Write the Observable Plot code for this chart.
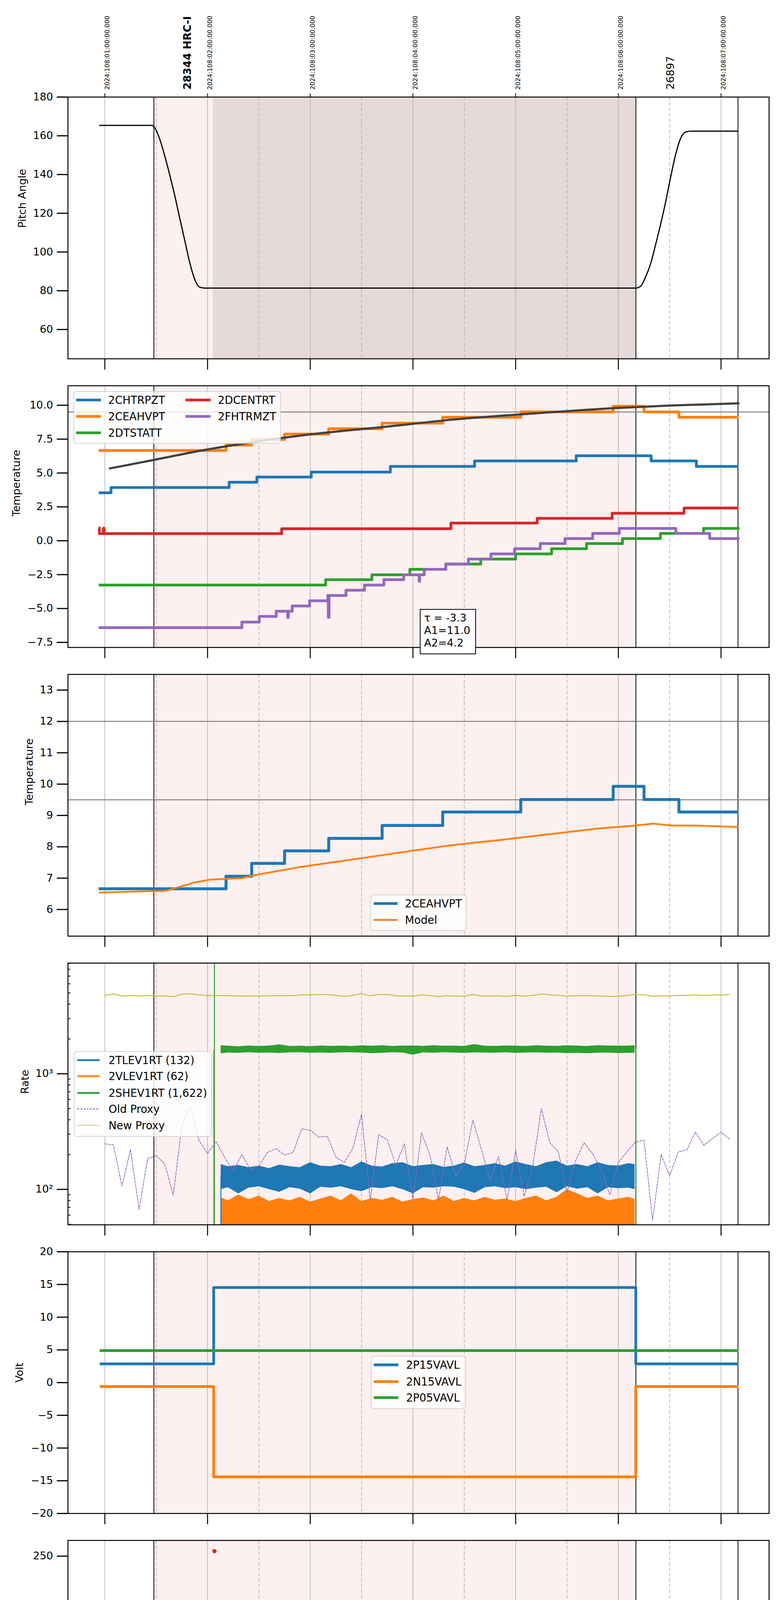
<!DOCTYPE html>
<html>
<head>
<meta charset="utf-8">
<script src="https://cdn.jsdelivr.net/npm/d3@7"></script>
<script src="https://cdn.jsdelivr.net/npm/@observablehq/plot@0.6"></script>
<style>
html,body{margin:0;padding:0;background:#fff;}
#root{position:relative;width:2000px;height:6200px;overflow:hidden;font-family:"DejaVu Sans",sans-serif;}
#root svg.panel{position:absolute;left:0;overflow:visible;}
.legend{position:absolute;box-sizing:border-box;background:rgba(255,255,255,0.8);border:2.2px solid rgba(204,204,204,0.85);border-radius:7px;}
.ltext{position:absolute;font-size:27.5px;line-height:30px;white-space:nowrap;color:#000;transform:translateY(-50%);}
.handle{position:absolute;overflow:visible;}
.tbox{position:absolute;box-sizing:border-box;border:2.2px solid #000;background:#fff;font-size:27px;line-height:32px;padding:5px 0 0 9px;white-space:nowrap;}
</style>
</head>
<body>
<div id="root"></div>
<script>
// ---------------- common axis data ----------------
const xDomain = [0.6407, 7.468];          // hours UTC, day 2024:108
const hourTicks = [1, 2, 3, 4, 5, 6, 7];
const halfTicks = [1.5, 2.5, 3.5, 4.5, 5.5, 6.5];
const eventLines = [1.4775, 6.171, 7.165];
const obsSpan = [1.4775, 6.171];
const dwellSpan = [2.054, 6.171];
const obsLabelT = [1.765, 6.468];
const obsLabels = ["28344 HRC-I", "26897"];

// ---------------- panel 1: pitch ----------------
const pitchT = [0.95,1.46,1.485,1.533,1.582,1.63,1.679,1.727,1.776,1.825,1.873,1.921,1.97,6.168,6.217,6.266,6.314,6.362,6.411,6.46,6.508,6.556,6.605,6.653,6.702,7.165];
const pitchV = [165.4,165.4,164.3,158.5,149.9,140.2,129.6,118.0,106.5,94.9,86.2,81.9,81.4,81.4,82.3,87.2,93.9,103.6,114.2,125.7,138.3,149.9,158.5,161.9,162.4,162.4];

// ---------------- panel 2: temperatures ----------------
const chtrpztT = [0.94,1.06,2.21,2.48,3.01,3.78,4.60,5.59,6.32,6.76,7.17];
const chtrpztV = [3.54,3.93,4.32,4.70,5.07,5.49,5.89,6.27,5.89,5.49,5.49];
const ceahvptT = [0.94,2.18,2.43,2.75,3.18,3.70,4.29,5.05,5.95,6.25,6.59,7.17];
const ceahvptV = [6.66,7.06,7.47,7.87,8.27,8.68,9.11,9.51,9.93,9.51,9.11,9.11];
const dtstattT = [0.94,3.15,3.60,3.97,4.32,4.66,5.00,5.35,5.69,6.04,6.41,6.83,7.18];
const dtstattV = [-3.27,-2.87,-2.51,-2.11,-1.72,-1.35,-0.97,-0.59,-0.21,0.16,0.54,0.91,0.91];
const dcentrtT = [0.94,0.947,0.985,0.993,2.722,4.37,5.21,5.94,6.64,7.17];
const dcentrtV = [0.95,0.53,0.92,0.53,0.89,1.31,1.65,2.03,2.42,2.42];
const fhtrmztT = [0.94,2.334,2.504,2.669,2.78,2.787,2.824,2.994,3.171,3.176,3.183,3.348,3.528,3.717,3.91,4.06,4.065,4.11,4.32,4.54,4.76,4.99,5.24,5.48,5.75,6.01,6.56,6.89,7.18];
const fhtrmztV = [-6.41,-6.0,-5.58,-5.2,-5.65,-5.2,-4.81,-4.43,-4.04,-5.65,-4.04,-3.65,-3.27,-2.87,-2.51,-2.99,-2.51,-2.11,-1.72,-1.35,-0.97,-0.59,-0.21,0.16,0.54,0.91,0.54,0.16,0.16];
const fitT = [1.05,1.5,1.97,2.48,3.0,3.78,4.4,5.0,5.95,6.5,7.17];
const fitV = [5.34,6.0,6.7,7.32,7.85,8.45,8.95,9.3,9.78,9.98,10.14];
const p2Limit = [9.5];
const fitText = ["τ = -3.3", "A1=11.0", "A2=4.2"];

// ---------------- panel 3: 2CEAHVPT vs model ----------------
const modelT = [0.95,1.60,1.87,2.02,2.33,2.50,2.89,3.38,3.86,4.35,4.83,5.32,5.80,6.14,6.34,6.51,6.73,7.16];
const modelV = [6.54,6.60,6.86,6.95,7.00,7.12,7.35,7.58,7.81,8.04,8.21,8.40,8.58,8.67,8.74,8.68,8.68,8.63];
const p3Limits = [12, 9.5];

// ---------------- panel 4: rates ----------------
const bandT = [2.13,2.2,2.3,2.4,2.5,2.6,2.7,2.8,2.9,3.0,3.1,3.2,3.3,3.4,3.5,3.6,3.7,3.8,3.9,4.0,4.1,4.2,4.3,4.4,4.5,4.6,4.7,4.8,4.9,5.0,5.1,5.2,5.3,5.4,5.5,5.6,5.7,5.8,5.9,6.0,6.1,6.16];
const tlevHi = [165,158,162,155,160,152,163,158,155,171,160,158,165,155,174,160,157,168,171,158,162,165,156,160,170,158,162,168,160,174,165,158,171,177,160,165,158,171,162,160,168,165];
const tlevLo = [100,104,92,103,106,100,95,104,101,92,105,103,106,100,96,104,102,106,100,92,104,103,106,105,100,93,104,106,102,104,100,103,105,94,106,101,104,92,104,102,103,100];
const vlevHi = [85,80,90,82,88,79,84,80,86,78,83,88,80,92,79,84,81,86,78,82,85,80,88,79,84,80,86,81,83,79,84,88,80,86,100,92,84,88,80,83,86,82];
const vlevLo = 30;
const shevHi = [1760,1740,1720,1750,1730,1745,1790,1730,1740,1725,1750,1735,1745,1730,1755,1740,1760,1730,1745,1750,1735,1760,1740,1745,1730,1800,1740,1735,1750,1745,1730,1760,1740,1735,1755,1745,1730,1760,1750,1740,1745,1760];
const shevLo = [1500,1520,1510,1530,1515,1520,1505,1525,1530,1515,1520,1510,1525,1530,1520,1500,1515,1530,1520,1455,1525,1515,1530,1520,1510,1525,1520,1515,1530,1510,1520,1525,1515,1520,1505,1510,1500,1515,1520,1505,1510,1515];
const rateSpikes = [
  {t: 2.06, lo: 30, hi: 1600, c: "#ff7f0e"},
  {t: 2.067, lo: 30, hi: 20000, c: "#2ca02c"},
  {t: 2.13, lo: 30, hi: 130, c: "#1f77b4"},
  {t: 6.17, lo: 30, hi: 1630, c: "#2ca02c"}
];
const proxyStart = 1.0, proxyStepH = 5 / 60;  // 5-minute cadence
const oldProxy = [248,242,107,221,67,185,196,166,89,355,530,264,204,259,190,143,200,148,159,209,225,198,209,334,325,283,288,190,171,229,448,81,297,269,162,248,81,308,197,81,233,131,165,398,223,119,193,81,219,87,159,499,253,211,93,177,253,204,148,90,171,211,257,267,54,200,131,211,219,313,240,276,313,272];
const newProxy = [4761,4900,4694,4745,4711,4761,4711,4711,4645,4866,4918,4813,4745,4745,4728,4728,4694,4694,4711,4728,4728,4728,4728,4813,4813,4848,4848,4761,4677,4761,4918,4728,4848,4848,4728,4694,4694,4813,4745,4645,4728,4694,4677,4848,4711,4694,4711,4660,4761,4694,4761,4900,4813,4779,4694,4728,4728,4728,4694,4660,4677,4745,4866,4813,4677,4728,4711,4761,4761,4796,4761,4796,4796,4848];
const rateTicks = [100, 1000];
const rateMinor = [50,60,70,80,90,200,300,400,500,600,700,800,900,2000,3000,4000,5000,6000,7000,8000,9000];

// ---------------- panel 5: voltages ----------------
const p15T = [0.95,2.06,6.17,7.17], p15V = [2.87,14.53,2.87,2.87];
const n15T = [0.95,2.06,6.17,7.17], n15V = [-0.59,-14.4,-0.59,-0.59];
const p05T = [0.95,7.17], p05V = [4.9,4.9];

// ---------------- panel 6: HV monitor ----------------
const imhvlvT = [2.077,2.082,2.092,2.102,2.107,2.413,2.486,3.141,3.179,3.223];
const imhvlvV = [100,95,90.5,86,82,127,127,127,127,127];
const imhvlvSteadyT = [2.112,6.17], imhvlvSteadyV = [79.2,79.2];
const imhblvT = [2.067,2.077,2.077,2.087,2.092,2.097,2.102,2.107,2.413,2.486,2.583,3.141,3.179,3.223];
const imhblvV = [255.1,127,119.3,105.6,101.4,97.2,92.9,89.7,79.2,79.2,81,79.2,79.2,79.2];
const imhblvSteadyT = [2.112,6.17], imhblvSteadyV = [85.9,85.9];

// ---------------- panel 7: detector temps ----------------
const spinatmT = [2.08,3.63,5.31,6.14], spinatmV = [2.66,3.13,3.64,3.64];
const sphvatmT = [2.06,2.075,2.21,2.22,2.77,3.22,3.68,4.13,4.69,5.34,6.07,6.14];
const sphvatmV = [14.44,15.0,14.6,15.0,15.36,15.68,16.02,16.35,16.70,17.04,17.43,17.43];
const iminatmT = [2.08,2.65,4.10,5.18,6.10,6.14], iminatmV = [0.36,0.80,1.24,1.72,2.18,2.18];
const imhvatmT = [2.06,2.061,2.24,2.35,2.46,2.58,2.72,2.88,3.07,3.31,3.61,3.92,4.30,4.75,5.41,6.12,6.17];
const imhvatmV = [-5,14.30,14.66,15.0,15.32,15.72,16.05,16.41,16.74,17.06,17.43,17.79,18.13,18.49,18.86,19.18,19.18];
const dropT1 = [2.42,2.435,2.45,2.475,2.49,2.505,2.52,2.535,2.55,2.565,2.58,2.595,2.61,2.625,2.64];
const dropT2 = [3.013,3.05,3.086,3.149,3.183,3.241];
const imhvEndT = [6.17];

// ---------------- panel 8: FEA temps ----------------
const fhT = [0.95,2.334,2.50,2.66,2.82,3.0,3.22,3.35,3.52,3.73,3.92,4.12,4.33,4.54,4.78,4.99,5.25,5.50,5.76,6.01,6.57,6.88,7.17];
const fhV = [-6.39,-6.0,-5.6,-5.21,-4.81,-4.40,-4.04,-3.66,-3.26,-2.86,-2.48,-2.12,-1.74,-1.37,-0.99,-0.62,-0.22,0.15,0.52,0.89,0.52,0.14,0.14];
const fradT = [0.95,1.50,1.72,2.50,2.68,2.88,3.07,3.27,3.47,3.68,3.89,4.12,4.35,4.59,4.84,5.10,5.38,5.66,5.95,6.49,7.17];
const fradV = [-8.4,-8.0,-8.4,-8.0,-7.60,-7.19,-6.79,-6.39,-6.0,-5.59,-5.21,-4.81,-4.42,-4.04,-3.66,-3.26,-2.88,-2.51,-2.12,-2.51,-2.51];
const fepT = [2.06,2.062,2.106,2.15,2.20,2.26,2.33,2.43,2.55,2.66,2.82,2.99,3.13,3.33,3.51,3.73,3.94,4.16,4.41,4.66,4.93,5.21,5.50,5.80,6.14,6.145];
const fepV = [-9,-6.85,-6.45,-6.05,-5.64,-5.21,-4.78,-4.40,-4.02,-3.55,-3.10,-2.69,-2.27,-1.84,-1.40,-0.96,-0.52,-0.09,0.36,0.82,1.27,1.74,2.21,2.70,1.1,1.1];
const feT = [2.06,2.062,2.24,2.36,2.475,2.55,2.66,2.785,2.93,3.01,3.20,3.33,3.47,3.61,3.77,3.91,4.10,4.25,4.43,4.59,4.79,4.97,5.17,5.37,5.55,5.76,5.98,6.17];
const feV = [-9,-7.49,-7.13,-6.77,-6.45,-6.05,-5.70,-5.36,-5.01,-4.66,-4.31,-3.97,-3.63,-3.29,-2.95,-2.61,-2.28,-1.94,-1.61,-1.27,-0.94,-0.62,-0.29,0.04,0.36,0.70,1.02,1.02];
const feSpikeT = [2.42,2.435,2.455,2.48,2.495,2.51,2.525,2.54,2.555,2.57,2.585,2.60,2.615,2.63,2.645,3.013,3.04,3.076,3.11,3.144,3.197,3.23,3.26,6.17];
const fepSpikeT = [3.076,3.11,3.16,3.21,3.24];

// ---------------- legends ----------------
const leg2Labels = ["2CHTRPZT","2CEAHVPT","2DTSTATT","2DCENTRT","2FHTRMZT"];
const leg3Labels = ["2CEAHVPT","Model"];
const leg4Labels = ["2TLEV1RT (132)","2VLEV1RT (62)","2SHEV1RT (1,622)","Old Proxy","New Proxy"];
const leg5Labels = ["2P15VAVL","2N15VAVL","2P05VAVL"];
const leg6Labels = ["2SPHBLV","2SPHVLV","2IMHVLV","2IMHBLV"];
const leg7Labels = ["2SPINATM","2SPHVATM","2IMINATM","2IMHVATM"];
const leg8Labels = ["2FHTRMZT","2FRADPYT","2FEPRATM","2FE00ATM"];

// ============================================================
const C = {blue:"#1f77b4", orange:"#ff7f0e", green:"#2ca02c", red:"#d62728", purple:"#9467bd", olive:"#bcbd22"};
const root = document.getElementById("root");
const ML = 173.5, MR = 31, PH = 670;
const tops = [248, 987, 1726, 2465, 3204, 3943, 4682, 5421];
const fmtHour = d => String((d + 20) % 24).padStart(2, "0") + "h";
const blank = () => "";
const pts = (T, V) => T.map((t, i) => ({t, v: V[i]}));
const step = (T, V, stroke, w = 7) => Plot.line(pts(T, V), {x: "t", y: "v", curve: "step-after", stroke, strokeWidth: w, strokeLinecap: "butt", strokeLinejoin: "round", clip: true});
const f1 = d3.format(".1f"), f0 = d3.format("d");

function panel(i, cfg) {
  const mt = cfg.mt ?? 40, mb = cfg.mb ?? 45;
  const marks = [
    Plot.rect([obsSpan], {x1: d => d[0], x2: d => d[1], fill: "#fdf0f0"}),
    ...(cfg.bg || []),
    Plot.ruleX(hourTicks, {x: d => d, stroke: "#b0b0b0", strokeWidth: 1.6}),
    Plot.ruleX(halfTicks, {x: d => d, stroke: "#b0b0b0", strokeWidth: 1.6, strokeDasharray: "9,5"}),
    Plot.ruleX(eventLines, {x: d => d, stroke: "black", strokeWidth: 2}),
    ...cfg.marks,
    Plot.frame({stroke: "black", strokeWidth: 2.5}),
    Plot.axisY({ticks: cfg.yTicks, tickFormat: cfg.yFormat, tickSize: 28, tickPadding: 10, strokeWidth: 3, fontSize: 27, label: null}),
    ...(cfg.yMinor ? [Plot.axisY({ticks: cfg.yMinor, tickSize: 7, dx: 7, strokeWidth: 2, tickFormat: blank, label: null})] : []),
    Plot.axisX({ticks: hourTicks, tickSize: 28, tickPadding: 10, strokeWidth: 2.5, fontSize: 27, tickFormat: cfg.last ? fmtHour : blank, label: null}),
    Plot.text([cfg.ylabel], {text: d => d, frameAnchor: "left", dx: cfg.labelX - ML, rotate: -90, fontSize: 27}),
    ...(cfg.extra || [])
  ];
  const svg = Plot.plot({
    width: 2000, height: mt + PH + mb,
    marginTop: mt, marginBottom: mb, marginLeft: ML, marginRight: MR,
    x: {domain: xDomain},
    y: {domain: cfg.yDomain, type: cfg.yType || "linear"},
    style: {background: "transparent", overflow: "visible", fontFamily: "DejaVu Sans", fontSize: "27px", color: "black"},
    marks
  });
  svg.classList.add("panel");
  svg.style.top = (tops[i] - mt) + "px";
  root.appendChild(svg);
}

// Panel 1
panel(0, {
  mt: 248, yDomain: [44.87, 180], yTicks: [60,80,100,120,140,160,180], yFormat: f0, ylabel: "Pitch Angle", labelX: 57,
  bg: [Plot.rect([dwellSpan], {x1: d => d[0], x2: d => d[1], fill: "#e5d9da"})],
  marks: [Plot.line(pts(pitchT, pitchV), {x: "t", y: "v", curve: "monotone-x", stroke: "black", strokeWidth: 3})],
  extra: [
    Plot.axisX({anchor: "top", ticks: hourTicks, tickSize: 10, strokeWidth: 2, tickFormat: blank, label: null}),
    Plot.text(hourTicks, {x: d => d, text: d => `2024:108:${String(d).padStart(2, "0")}:00:00.000`, frameAnchor: "top", dy: -19, rotate: -90, textAnchor: "start", fontSize: 16}),
    Plot.text([0], {x: i => obsLabelT[i], text: i => obsLabels[i], frameAnchor: "top", dy: -19, rotate: -90, textAnchor: "start", fontSize: 27, fontWeight: "bold"}),
    Plot.text([1], {x: i => obsLabelT[i], text: i => obsLabels[i], frameAnchor: "top", dy: -19, rotate: -90, textAnchor: "start", fontSize: 27})
  ]
});

// Panel 2
panel(1, {
  yDomain: [-7.875, 11.44], yTicks: [-7.5,-5,-2.5,0,2.5,5,7.5,10], yFormat: f1, ylabel: "Temperature", labelX: 42,
  marks: [
    Plot.ruleY(p2Limit, {y: d => d, stroke: "#808080", strokeWidth: 2.5}),
    step(chtrpztT, chtrpztV, C.blue),
    step(ceahvptT, ceahvptV, C.orange),
    step(dtstattT, dtstattV, C.green),
    step(dcentrtT, dcentrtV, C.red),
    step(fhtrmztT, fhtrmztV, C.purple),
    Plot.line(pts(fitT, fitV), {x: "t", y: "v", curve: "monotone-x", stroke: "#404040", strokeWidth: 5.5})
  ]
});

// Panel 3
panel(2, {
  yDomain: [5.15, 13.5], yTicks: [6,7,8,9,10,11,12,13], yFormat: f0, ylabel: "Temperature", labelX: 75,
  marks: [
    Plot.ruleY(p3Limits, {y: d => d, stroke: "#808080", strokeWidth: 2.5}),
    step(ceahvptT, ceahvptV, C.blue, 7.5),
    Plot.line(pts(modelT, modelV), {x: "t", y: "v", curve: "linear", stroke: C.orange, strokeWidth: 4.5})
  ]
});

// Panel 4
const bandIdx = d3.range(bandT.length);
const proxyIdx = d3.range(oldProxy.length);
panel(3, {
  yDomain: [49.4, 9060], yType: "log", yTicks: rateTicks, yFormat: d => d === 100 ? "10²" : "10³", yMinor: rateMinor, ylabel: "Rate", labelX: 64,
  marks: [
    Plot.areaY(bandIdx, {x: i => bandT[i], y1: i => tlevLo[i], y2: i => tlevHi[i], fill: C.blue, clip: true}),
    Plot.areaY(bandIdx, {x: i => bandT[i], y1: vlevLo, y2: i => vlevHi[i], fill: C.orange, clip: true}),
    Plot.areaY(bandIdx, {x: i => bandT[i], y1: i => shevLo[i], y2: i => shevHi[i], fill: C.green, clip: true}),
    Plot.ruleX(rateSpikes, {x: "t", y1: "lo", y2: "hi", stroke: "c", strokeWidth: 2.5, clip: true}),
    Plot.line(proxyIdx, {x: i => proxyStart + i * proxyStepH, y: i => oldProxy[i], stroke: C.purple, strokeWidth: 1.8, strokeDasharray: "6,3", clip: true}),
    Plot.line(proxyIdx, {x: i => proxyStart + i * proxyStepH, y: i => newProxy[i], stroke: C.olive, strokeWidth: 2.5, strokeDasharray: "4,2.5", clip: true})
  ]
});

// Panel 5
panel(4, {
  yDomain: [-20, 20], yTicks: [-20,-15,-10,-5,0,5,10,15,20], yFormat: f0, ylabel: "Volt", labelX: 50,
  marks: [step(p15T, p15V, C.blue), step(n15T, n15V, C.orange), step(p05T, p05V, C.green)]
});

// Panel 6
panel(5, {
  yDomain: [0, 266], yTicks: [0,50,100,150,200,250], yFormat: f0, ylabel: "HV Monitor", labelX: 56,
  marks: [
    Plot.line(pts(imhvlvSteadyT, imhvlvSteadyV), {x: "t", y: "v", stroke: C.green, strokeWidth: 12, strokeLinecap: "round"}),
    Plot.dot(pts(imhvlvT, imhvlvV), {x: "t", y: "v", r: 5.5, fill: C.green}),
    Plot.line(pts(imhblvSteadyT, imhblvSteadyV), {x: "t", y: "v", stroke: C.red, strokeWidth: 12, strokeLinecap: "round"}),
    Plot.dot(pts(imhblvT, imhblvV), {x: "t", y: "v", r: 5.5, fill: C.red})
  ]
});

// Panel 7
panel(6, {
  yDomain: [-0.68, 20], yTicks: [0,2.5,5,7.5,10,12.5,15,17.5], yFormat: f1, ylabel: "Detector Temp", labelX: 47,
  marks: [
    step(spinatmT, spinatmV, C.blue),
    Plot.ruleX(dropT1.concat(dropT2), {x: d => d, y1: -5, y2: 2.66, stroke: C.blue, strokeWidth: 6, clip: true}),
    step(sphvatmT, sphvatmV, C.orange),
    Plot.ruleX(dropT1, {x: d => d, y1: 15.0, y2: 8.66, stroke: C.orange, strokeWidth: 6}),
    Plot.ruleX(dropT2, {x: d => d, y1: 15.36, y2: 9.29, stroke: C.orange, strokeWidth: 6}),
    step(iminatmT, iminatmV, C.green),
    Plot.ruleX(dropT1, {x: d => d, y1: 0.36, y2: 2.74, stroke: C.green, strokeWidth: 6}),
    Plot.ruleX(dropT2, {x: d => d, y1: 0.80, y2: 2.74, stroke: C.green, strokeWidth: 6}),
    step(imhvatmT, imhvatmV, C.red),
    Plot.ruleX(dropT2, {x: d => d, y1: 15.35, y2: 16.74, stroke: C.red, strokeWidth: 6}),
    Plot.ruleX(imhvEndT, {x: d => d, y1: -5, y2: 25, stroke: C.red, strokeWidth: 7, clip: true})
  ]
});

// Panel 8
panel(7, {
  mb: 109, last: true,
  yDomain: [-8.30, 2.77], yTicks: [-8,-6,-4,-2,0,2], yFormat: f0, ylabel: "FEA Temp", labelX: 69,
  marks: [
    step(fhT, fhV, C.blue),
    step(fradT, fradV, C.orange),
    step(fepT, fepV, C.green),
    Plot.ruleX(fepSpikeT, {x: d => d, y1: -2.5, y2: -6.05, stroke: C.green, strokeWidth: 6}),
    step(feT, feV, C.red),
    Plot.ruleX(feSpikeT, {x: d => d, y1: -20, y2: 20, stroke: C.red, strokeWidth: 7, clip: true})
  ],
  extra: [
    Plot.text(halfTicks, {x: d => d, text: () => "30", frameAnchor: "bottom", lineAnchor: "top", dy: 7, fontSize: 18}),
    Plot.text(["2024-04-17 (108)"], {text: d => d, frameAnchor: "bottom", dy: 90, fontSize: 33})
  ]
});

// ---------------- legends (HTML overlays) ----------------
function legend(box, rows) {
  const [l, t, r, b] = box;
  const d = document.createElement("div");
  d.className = "legend";
  Object.assign(d.style, {left: l + "px", top: t + "px", width: (r - l) + "px", height: (b - t) + "px"});
  root.appendChild(d);
  for (const row of rows) {
    if (row.marker) {
      const s = document.createElementNS("http://www.w3.org/2000/svg", "svg");
      s.setAttribute("class", "handle"); s.setAttribute("width", 20); s.setAttribute("height", 20);
      s.style.left = (row.mx - 10) + "px"; s.style.top = (row.y - 10) + "px";
      s.innerHTML = `<circle cx="10" cy="10" r="5.5" fill="${row.color}"/>`;
      root.appendChild(s);
    } else {
      const w = row.hx[1] - row.hx[0];
      const s = document.createElementNS("http://www.w3.org/2000/svg", "svg");
      s.setAttribute("class", "handle"); s.setAttribute("width", w); s.setAttribute("height", 20);
      s.style.left = row.hx[0] + "px"; s.style.top = (row.y - 10) + "px";
      s.innerHTML = `<line x1="0" y1="10" x2="${w}" y2="10" stroke="${row.color}" stroke-width="${row.lw}" ${row.dash ? `stroke-dasharray="${row.dash}"` : ""}/>`;
      root.appendChild(s);
    }
    const tx = document.createElement("div");
    tx.className = "ltext";
    tx.textContent = row.label;
    tx.style.left = row.tx + "px"; tx.style.top = row.y + "px";
    root.appendChild(tx);
  }
}
const col = [C.blue, C.orange, C.green, C.red, C.purple];
legend([188, 1001, 719, 1136], leg2Labels.map((label, i) => ({
  label, color: col[i], lw: 7, y: [1024, 1066, 1108, 1024, 1066][i],
  hx: i < 3 ? [194.5, 258] : [475, 539], tx: i < 3 ? 277 : 558
})));
legend([948, 2290, 1195, 2383], leg3Labels.map((label, i) => ({
  label, color: [C.blue, C.orange][i], lw: [7, 4.5][i], y: [2313, 2355][i], hx: [957, 1018], tx: 1037
})));
legend([189, 2691, 542, 2910], leg4Labels.map((label, i) => ({
  label, color: [C.blue, C.orange, C.green, C.purple, C.olive][i], lw: [4.5, 4.5, 4.5, 2.5, 2.5][i],
  dash: [null, null, null, "5,3", "3,2"][i], y: [2714, 2755, 2798, 2839, 2881][i], hx: [198, 255], tx: 278
})));
legend([950, 3471, 1193, 3607], leg5Labels.map((label, i) => ({
  label, color: [C.blue, C.orange, C.green][i], lw: 7, y: [3494, 3537, 3578][i], hx: [957, 1020], tx: 1040
})));
legend([960, 4423, 1184, 4599], leg6Labels.map((label, i) => ({
  label, color: [C.blue, C.orange, C.green, C.red][i], marker: true, mx: 999, y: [4447, 4488, 4530, 4571][i], tx: 1048
})));
legend([948, 4929, 1195, 5106], leg7Labels.map((label, i) => ({
  label, color: [C.blue, C.orange, C.green, C.red][i], lw: 7, y: [4951.5, 4994, 5035.5, 5078][i], hx: [957, 1020], tx: 1037
})));
legend([1705, 5900, 1956, 6078], leg8Labels.map((label, i) => ({
  label, color: [C.blue, C.orange, C.green, C.red][i], lw: 7, y: [5924, 5966, 6007, 6050][i], hx: [1713, 1773], tx: 1792
})));

// fit parameter box (panel 2)
const tb = document.createElement("div");
tb.className = "tbox";
Object.assign(tb.style, {left: "1075px", top: "1559px", width: "144px", height: "116px"});
tb.innerHTML = fitText.map(s => `<div>${s}</div>`).join("");
root.appendChild(tb);
</script>
</body>
</html>
